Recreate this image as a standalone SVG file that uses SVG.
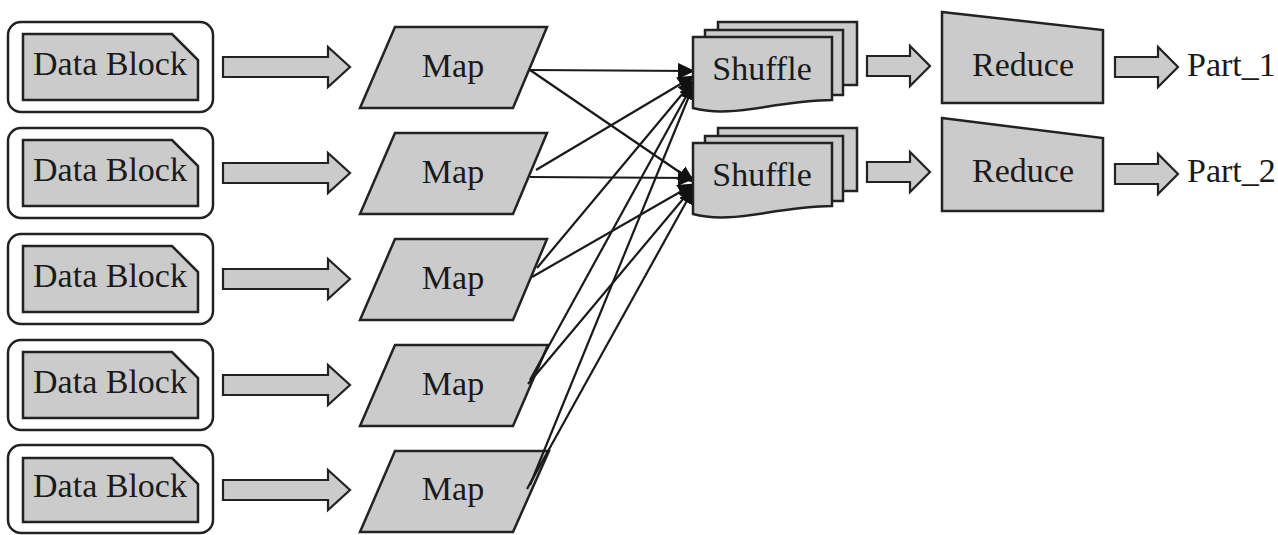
<svg xmlns="http://www.w3.org/2000/svg" width="1278" height="535" viewBox="0 0 1278 535">
  <style>
    .frame { fill: #ffffff; stroke: #222222; stroke-width: 2.5; }
    .shape { fill: #cbcbcb; stroke: #222222; stroke-width: 2.5; stroke-linejoin: miter; }
    .barrow { fill: #cbcbcb; stroke: #222222; stroke-width: 2.2; stroke-linejoin: miter; }
    .label { font-family: "Liberation Serif", "Times New Roman", serif; font-size: 34px; fill: #1a1a1a; }
    .mid { text-anchor: middle; }
    .link { stroke: #1a1a1a; stroke-width: 2.2; fill: none; marker-end: url(#head); }
  </style>
  <defs>
    <marker id="head" markerUnits="userSpaceOnUse" markerWidth="18" markerHeight="16" refX="16" refY="8" orient="auto">
      <path d="M0,0 L17,8 L0,16 Z" fill="#111111"/>
    </marker>
    <!-- block arrow, origin at the left end of the shaft centre line -->
    <path id="arrowLong" class="barrow" d="M0,-10 H105 V-20 L127,0 L105,20 V10 H0 Z"/>
    <path id="arrowShort" class="barrow" d="M0,-10 H43 V-20 L63,0 L43,20 V10 H0 Z"/>
  </defs>

  <!-- input splits -->
  <g id="block1">
    <rect class="frame" x="8" y="22" width="205" height="90" rx="13"/>
    <path class="shape" d="M23,34 H172 L198,60 V100 H23 Z"/>
    <text class="label mid" x="110" y="75">Data Block</text>
    <use href="#arrowLong" x="223" y="67"/>
  </g>
  <g id="block2">
    <rect class="frame" x="8" y="128" width="205" height="90" rx="13"/>
    <path class="shape" d="M23,140 H172 L198,166 V206 H23 Z"/>
    <text class="label mid" x="110" y="181">Data Block</text>
    <use href="#arrowLong" x="223" y="173"/>
  </g>
  <g id="block3">
    <rect class="frame" x="8" y="234" width="205" height="90" rx="13"/>
    <path class="shape" d="M23,246 H172 L198,272 V312 H23 Z"/>
    <text class="label mid" x="110" y="287">Data Block</text>
    <use href="#arrowLong" x="223" y="279"/>
  </g>
  <g id="block4">
    <rect class="frame" x="8" y="340" width="205" height="90" rx="13"/>
    <path class="shape" d="M23,352 H172 L198,378 V418 H23 Z"/>
    <text class="label mid" x="110" y="393">Data Block</text>
    <use href="#arrowLong" x="223" y="385"/>
  </g>
  <g id="block5">
    <rect class="frame" x="8" y="445" width="205" height="88" rx="13"/>
    <path class="shape" d="M23,458 H172 L198,484 V522 H23 Z"/>
    <text class="label mid" x="110" y="497">Data Block</text>
    <use href="#arrowLong" x="223" y="490"/>
  </g>

  <!-- map tasks -->
  <g id="map1">
    <path class="shape" d="M395,27 H547 L513,108 H360 Z"/>
    <text class="label mid" x="453" y="77">Map</text>
  </g>
  <g id="map2">
    <path class="shape" d="M395,133 H547 L513,214 H360 Z"/>
    <text class="label mid" x="453" y="183">Map</text>
  </g>
  <g id="map3">
    <path class="shape" d="M395,239 H547 L513,320 H360 Z"/>
    <text class="label mid" x="453" y="289">Map</text>
  </g>
  <g id="map4">
    <path class="shape" d="M395,345 H548 L513,426 H360 Z"/>
    <text class="label mid" x="453" y="395">Map</text>
  </g>
  <g id="map5">
    <path class="shape" d="M395,451 H549 L513,532 H360 Z"/>
    <text class="label mid" x="453" y="500">Map</text>
  </g>

  <!-- map outputs to shuffle -->
  <g id="connectors">
    <line class="link" x1="530" y1="70" x2="694" y2="71"/>
    <line class="link" x1="530" y1="70" x2="694" y2="182"/>
    <line class="link" x1="536" y1="170" x2="694" y2="76"/>
    <line class="link" x1="530" y1="177" x2="694" y2="178"/>
    <line class="link" x1="537" y1="268" x2="694" y2="80"/>
    <line class="link" x1="532" y1="277" x2="694" y2="184"/>
    <line class="link" x1="530" y1="380" x2="694" y2="82"/>
    <line class="link" x1="528" y1="384" x2="694" y2="186"/>
    <line class="link" x1="530" y1="485" x2="694" y2="84"/>
    <line class="link" x1="527" y1="489" x2="694" y2="188"/>
  </g>

  <!-- shuffle stacks -->
  <g id="shuffle1">
    <rect class="shape" x="718" y="22" width="139" height="63"/>
    <rect class="shape" x="705" y="30" width="138" height="65"/>
    <path class="shape" d="M693,37 H832 V100 C812,100 790,103 765,107 C740,111 715,114 693,108 Z"/>
    <text class="label mid" x="762" y="80">Shuffle</text>
    <use href="#arrowShort" x="867" y="66"/>
  </g>
  <g id="shuffle2">
    <rect class="shape" x="718" y="128" width="139" height="63"/>
    <rect class="shape" x="705" y="136" width="138" height="65"/>
    <path class="shape" d="M693,143 H832 V206 C812,206 790,209 765,213 C740,217 715,220 693,214 Z"/>
    <text class="label mid" x="762" y="186">Shuffle</text>
    <use href="#arrowShort" x="867" y="172"/>
  </g>

  <!-- reducers and their output partitions -->
  <g id="reduce1">
    <path class="shape" d="M942,12 L1103,30 V103 H942 Z"/>
    <text class="label mid" x="1023" y="76">Reduce</text>
    <use href="#arrowShort" x="1115" y="67"/>
    <text class="label" x="1187" y="76">Part_1</text>
  </g>
  <g id="reduce2">
    <path class="shape" d="M942,118 L1103,138 V211 H942 Z"/>
    <text class="label mid" x="1023" y="182">Reduce</text>
    <use href="#arrowShort" x="1115" y="174"/>
    <text class="label" x="1187" y="182">Part_2</text>
  </g>
</svg>
